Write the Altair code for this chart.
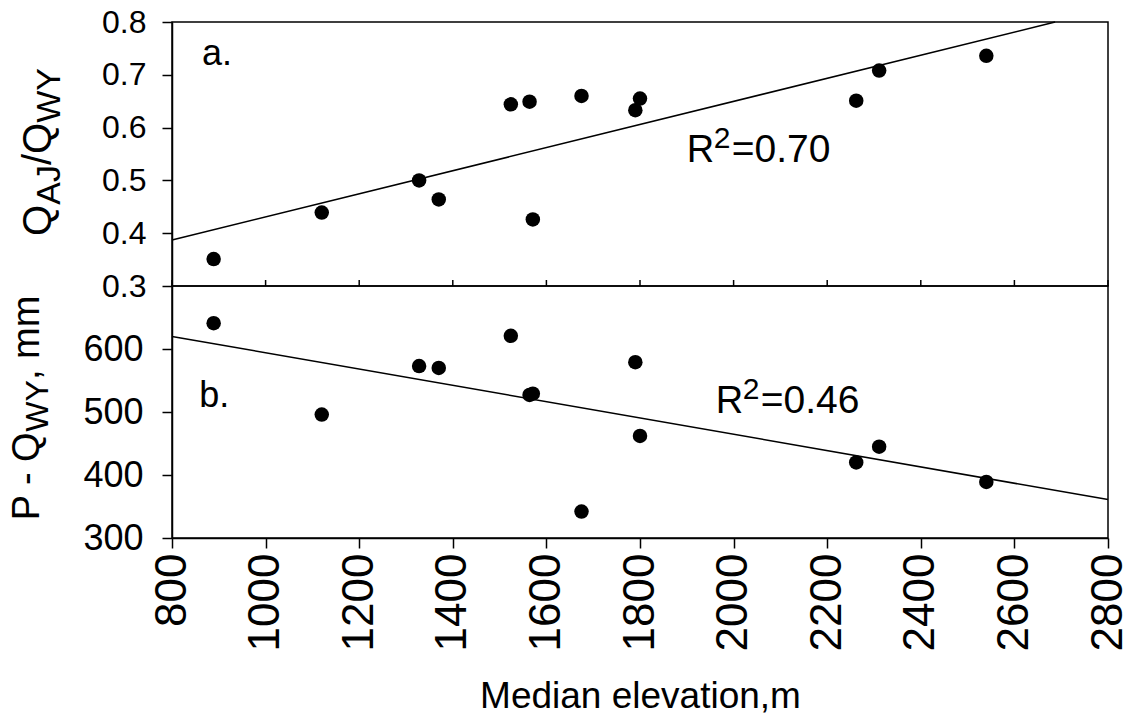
import altair as alt
import pandas as pd

FONT = "Liberation Sans"

# ---- data ----
elevation = [889, 1120, 1328, 1370, 1524, 1564, 1571, 1675, 1790, 1800, 2262, 2311, 2540]
q_ratio = [0.351, 0.439, 0.500, 0.464, 0.644, 0.649, 0.426, 0.660, 0.633, 0.655, 0.651, 0.708, 0.736]
p_minus_q = [641, 496, 573, 570, 621, 527, 529, 342, 579, 462, 420, 445, 389]

fit_a_x = [800, 2687]
fit_a_y = [0.387, 0.800]
fit_b_x = [800, 2800]
fit_b_y = [620, 361]

x_ticks = [800, 1000, 1200, 1400, 1600, 1800, 2000, 2200, 2400, 2600, 2800]
y_ticks_a = [0.3, 0.4, 0.5, 0.6, 0.7, 0.8]
y_ticks_b = [300, 400, 500, 600]

W = 936
HA = 264
HB = 252

xscale = alt.Scale(domain=[800, 2800], nice=False, zero=False)
ya = alt.Scale(domain=[0.3, 0.8], nice=False, zero=False)
yb = alt.Scale(domain=[300, 700], nice=False, zero=False)

# axes (the same object is used by every layer of a panel so they merge cleanly)
ax_ya = alt.Axis(values=y_ticks_a, format=".1f", title=None, labelFontSize=32,
                 tickSize=10, labelPadding=16, labelFlush=False, labelOverlap=False)
ax_yb = alt.Axis(values=y_ticks_b, format="d", title=None, labelFontSize=36,
                 tickSize=10, labelPadding=19, labelFlush=False, labelOverlap=False)
ax_xb = alt.Axis(values=x_ticks, format="d", labelAngle=270, labelFontSize=44, labelPadding=5,
                 tickSize=10, labelFlush=False, labelOverlap=False,
                 title="Median elevation,m", titleFontSize=37, titleFontWeight="normal",
                 titlePadding=28)

ADV = {"Q": .778, "A": .667, "J": .5, "/": .278, "W": .944, "Y": .667,
       "P": .667, " ": .278, "-": .333, ",": .278, "m": .833}


def text_width(s, size):
    return sum(ADV[c] for c in s) * size


def rotated_title(pieces, center_y, base_x, sub_shift):
    total = sum(text_width(t, fs) for t, fs, _ in pieces)
    y = center_y + total / 2
    layers = []
    for t, fs, sub in pieces:
        layers.append(
            alt.Chart(pd.DataFrame({"t": [t]})).mark_text(
                font=FONT, fontSize=fs, angle=270, align="left",
                baseline="alphabetic", color="black"
            ).encode(
                text="t:N",
                x=alt.value(base_x + (sub_shift if sub else 0)),
                y=alt.value(y),
            )
        )
        y -= text_width(t, fs)
    return layers


def r2_label(x, y, yscale, yaxis, xaxis, value):
    df = pd.DataFrame({"x": [x], "y": [y]})
    base = alt.Chart(df)
    enc = dict(x=alt.X("x:Q", scale=xscale, axis=xaxis), y=alt.Y("y:Q", scale=yscale, axis=yaxis))
    r = base.mark_text(text="R", font=FONT, fontSize=38, align="left", baseline="alphabetic", color="black").encode(**enc)
    two = base.mark_text(text="2", font=FONT, fontSize=30, align="left", baseline="alphabetic", dx=27, dy=-14, color="black").encode(**enc)
    rest = base.mark_text(text="=" + value, font=FONT, fontSize=39, align="left", baseline="alphabetic", dx=45, color="black").encode(**enc)
    return [r, two, rest]


# ---------------- panel a ----------------
df_a = pd.DataFrame({"elev": elevation, "val": q_ratio})
pts_a = alt.Chart(df_a).mark_circle(size=210, color="black", opacity=1).encode(
    x=alt.X("elev:Q", scale=xscale, axis=None),
    y=alt.Y("val:Q", scale=ya, axis=ax_ya),
)
line_a = alt.Chart(pd.DataFrame({"elev": fit_a_x, "val": fit_a_y})).mark_line(
    color="black", strokeWidth=1.5).encode(
    x=alt.X("elev:Q", scale=xscale, axis=None),
    y=alt.Y("val:Q", scale=ya, axis=ax_ya),
)
lab_a = alt.Chart(pd.DataFrame({"x": [864], "y": [0.7186], "t": ["a."]})).mark_text(
    font=FONT, fontSize=36, align="left", baseline="alphabetic", color="black").encode(
    x=alt.X("x:Q", scale=xscale, axis=None), y=alt.Y("y:Q", scale=ya, axis=ax_ya), text="t:N")
# short inward ticks on the shared boundary between the panels
ticks_a = alt.Chart(pd.DataFrame({"elev": x_ticks})).mark_rule(color="black", strokeWidth=1.5).encode(
    x=alt.X("elev:Q", scale=xscale, axis=None),
    y=alt.value(HA - 6), y2=alt.value(HA),
)

title_a = rotated_title([("Q", 40, False), ("AJ", 34, True), ("/Q", 40, False), ("WY", 34, True)],
                        center_y=130, base_x=-121, sub_shift=9)

panel_a = alt.layer(pts_a, line_a, lab_a, ticks_a,
                    *r2_label(1900, 0.5348, ya, ax_ya, None, "0.70"), *title_a).properties(
    width=W, height=HA)

# ---------------- panel b ----------------
df_b = pd.DataFrame({"elev": elevation, "val": p_minus_q})
pts_b = alt.Chart(df_b).mark_circle(size=210, color="black", opacity=1).encode(
    x=alt.X("elev:Q", scale=xscale, axis=ax_xb),
    y=alt.Y("val:Q", scale=yb, axis=ax_yb),
)
line_b = alt.Chart(pd.DataFrame({"elev": fit_b_x, "val": fit_b_y})).mark_line(
    color="black", strokeWidth=1.5).encode(
    x=alt.X("elev:Q", scale=xscale, axis=ax_xb),
    y=alt.Y("val:Q", scale=yb, axis=ax_yb),
)
lab_b = alt.Chart(pd.DataFrame({"x": [858], "y": [508], "t": ["b."]})).mark_text(
    font=FONT, fontSize=36, align="left", baseline="alphabetic", color="black").encode(
    x=alt.X("x:Q", scale=xscale, axis=ax_xb), y=alt.Y("y:Q", scale=yb, axis=ax_yb), text="t:N")

title_b = rotated_title([("P - Q", 38, False), ("WY", 32, True), (", mm", 38, False)],
                        center_y=122, base_x=-133, sub_shift=9)

panel_b = alt.layer(pts_b, line_b, lab_b,
                    *r2_label(1962, 498.9, yb, ax_yb, ax_xb, "0.46"), *title_b).properties(
    width=W, height=HB)

chart = alt.vconcat(panel_a, panel_b, spacing=0, bounds="flush").properties(
    padding={"left": 8, "top": 5, "right": 0, "bottom": 0},
    background="white",
).configure_view(
    stroke="black", strokeWidth=1.5
).configure_axis(
    domainColor="black", tickColor="black", labelColor="black", titleColor="black",
    grid=False, domainWidth=1.5, tickWidth=1.5, labelFont=FONT, titleFont=FONT,
)

chart.save("out.html", embed_options={"renderer": "svg", "actions": False})
